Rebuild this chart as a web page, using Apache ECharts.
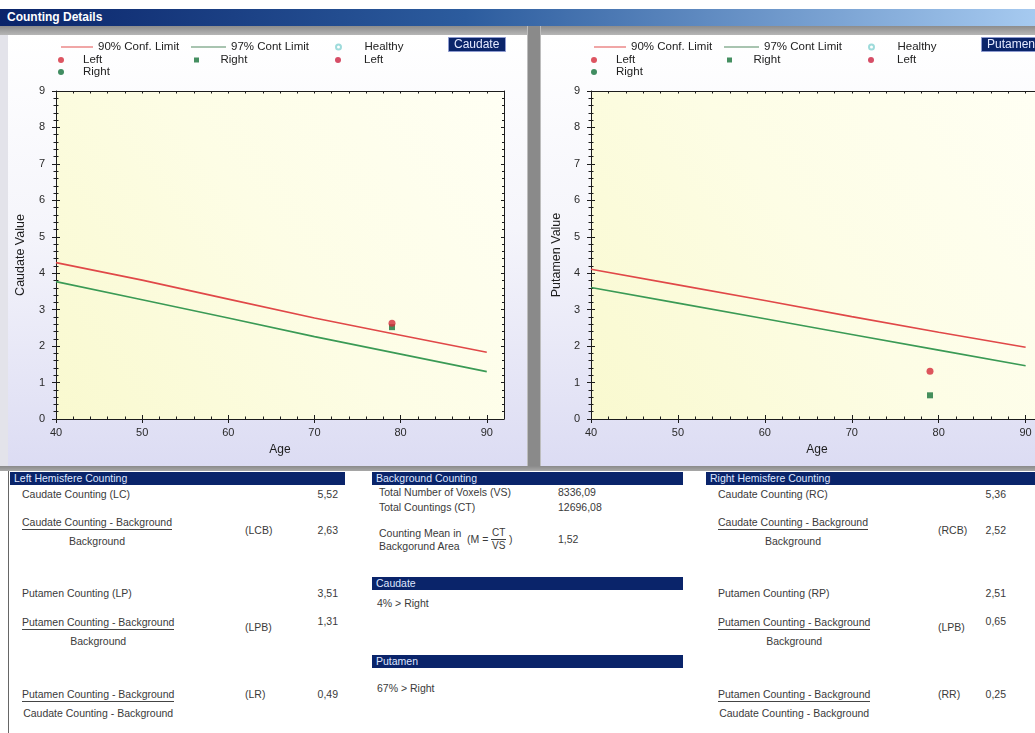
<!DOCTYPE html>
<html lang="en">
<head>
<meta charset="utf-8">
<title>Counting Details</title>
<script src="https://cdn.jsdelivr.net/npm/echarts@6.0.0/dist/echarts.min.js"></script>
<style>
  html, body { margin: 0; padding: 0; }
  body { width: 1035px; height: 733px; overflow: hidden; position: relative; background: #ffffff;
         font-family: "Liberation Sans", Arial, sans-serif; }
  #titlebar { position: absolute; left: 0; top: 9px; width: 1035px; height: 17px;
              background: linear-gradient(to right, #0a246a 0%, #2c5c9e 45%, #a6caf0 100%); }
  #titlebar span { position: absolute; left: 7px; top: 1px; color: #fff; font-weight: bold;
                   font-size: 12px; line-height: 15px; }
  #topband { position: absolute; left: 0; top: 26px; width: 1035px; height: 9px;
             background: linear-gradient(#8c8c8c, #b6b6b6); }
  #leftedge { position: absolute; left: 0; top: 35px; width: 8px; height: 432px; background: #e3e3ea; }
  .panel { position: absolute; top: 35px; height: 431px;
           background: linear-gradient(to bottom, #ffffff 0%, #f5f5fb 45%, #dcdcf3 100%); }
  #divider { position: absolute; left: 527px; top: 26px; width: 14px; height: 445px; box-sizing: border-box;
             background: #8a8a8a; border-left: 1px solid #bdbdbd; border-right: 1px solid #bdbdbd; }
  #midband { position: absolute; left: 0; top: 466px; width: 1035px; height: 5px;
             background: linear-gradient(#8a8a8a, #a8a8a8); }
  #leftrule { position: absolute; left: 8px; top: 471px; width: 1px; height: 262px; background: #666; }
  .chart { position: absolute; top: 35px; height: 431px; }
  .t { position: absolute; font-size: 10.5px; line-height: 12px; color: #3a3a3a; white-space: nowrap; }
  .hdr { position: absolute; height: 13px; line-height: 13px; background: #0a246a; color: #dfe6ff;
         font-size: 10.5px; padding-left: 4px; box-sizing: border-box; white-space: nowrap; overflow: hidden; }
  .frac { position: absolute; text-align: center; font-size: 10.5px; color: #3a3a3a; white-space: nowrap; }
  .frac .n { line-height: 12px; border-bottom: 1px solid #444; padding-bottom: 1px; }
  .frac .d { line-height: 12px; margin-top: 5px; }
  .sfrac { position: absolute; text-align: center; font-size: 10px; color: #3a3a3a; white-space: nowrap; }
  .sfrac .n { line-height: 10px; border-bottom: 1px solid #444; padding: 0 1px 1px; }
  .sfrac .d { line-height: 10px; margin-top: 1px; }
</style>
</head>
<body>
<div id="titlebar"><span>Counting Details</span></div>
<div id="topband"></div>
<div id="leftedge"></div>
<div class="panel" style="left:8px;width:519px"></div>
<div class="panel" style="left:541px;width:520px"></div>
<div id="divider"></div>
<div id="midband"></div>
<div id="leftrule"></div>
<div id="caudateChart" class="chart" style="left:8px;width:519px"></div>
<div id="putamenChart" class="chart" style="left:541px;width:520px"></div>

<script>
// ---- values -------------------------------------------------------------
const ages = [40, 50, 60, 70, 80, 90];                  // ages where the limit curves are sampled
const caudateLimit90 = [4.29, 3.81, 3.29, 2.77, 2.30, 1.83];
const caudateLimit97 = [3.77, 3.27, 2.77, 2.26, 1.78, 1.30];
const putamenLimit90 = [4.11, 3.68, 3.25, 2.81, 2.38, 1.97];
const putamenLimit97 = [3.61, 3.18, 2.75, 2.32, 1.89, 1.46];
const patientAge = 79;

// hemisphere counting: C, CB, P, PB, R
const leftHemisphere  = [5.52, 2.63, 3.51, 1.31, 0.49];
const rightHemisphere = [5.36, 2.52, 2.51, 0.65, 0.25];
const leftTags  = ['(LC)', '(LCB)', '(LP)', '(LPB)', '(LR)'];
const rightTags = ['(RC)', '(RCB)', '(RP)', '(LPB)', '(RR)'];
// background: voxels VS, countings CT, mean M
const backgroundCounting = [8336.09, 12696.08, 1.52];
const asymmetryPercent = [4, 67];                        // caudate, putamen

const fmt = v => v.toFixed(2).replace('.', ',');

// ---- charts -------------------------------------------------------------
const FONT = '"Liberation Sans", Arial, sans-serif';
const INK = '#1c1c1c';
const AGE_MIN = 40, AGE_MAX = 92;
const SQUARE = 'path://M0,0H10V10H0Z';
const pairs = (xs, ys) => xs.map((x, i) => [x, ys[i]]);

// legend entries: series name, icon, icon colour, box left, box width, box height, row
const legendSlots = [
  ['90% Conf. Limit', 'rect', '#f0a6a6', 53, 32, 2, 0],
  ['Left', 'circle', null, 50, 34, 6, 1],
  ['Right 2', 'circle', null, 50, 34, 6, 2],
  ['97% Cont Limit', 'rect', '#a8c4b0', 183, 35, 2, 0],
  ['Right', SQUARE, null, 186, 38, 5, 1],
  ['Healthy', 'emptyCircle', null, 327, 42, 5, 0],
  ['Left 2', 'circle', null, 327, 42, 6, 1]
];
const legendRows = [12, 25, 37];

function valueAxis(extra) {
  const base = {
    type: 'value', silent: true,
    splitLine: { show: false }, minorSplitLine: { show: false },
    axisLabel: { show: false },
    axisLine: { show: false, onZero: false, lineStyle: { color: INK, width: 1 } },
    axisTick: { show: true, inside: true, length: 4, lineStyle: { color: INK, width: 1 } },
    minorTick: { show: false }
  };
  for (const k in extra) {
    base[k] = (typeof extra[k] === 'object' && !Array.isArray(extra[k]) && base[k])
      ? Object.assign({}, base[k], extra[k]) : extra[k];
  }
  return base;
}

function drawChart(el, cfg) {
  const chart = echarts.init(el, null, { renderer: 'canvas' });
  const xr = { min: AGE_MIN, max: AGE_MAX };
  const yr = { min: 0, max: 9, interval: 1 };
  const option = {
    animation: false,
    title: {
      text: cfg.title, left: 440, top: 2, padding: [1, 6],
      backgroundColor: '#0a246a', borderColor: '#8e9bd0', borderWidth: 1,
      textStyle: { color: '#e4e9ff', fontSize: 12, fontWeight: 'normal', fontFamily: FONT, lineHeight: 13 }
    },
    legend: legendSlots.map(s => ({
      left: s[3], top: legendRows[s[6]] - 6.5, padding: 0, itemGap: 0,
      itemWidth: s[4], itemHeight: s[5], selectedMode: false,
      formatter: n => n.replace(/ 2$/, ''),
      textStyle: { color: '#222', fontSize: 11.5, fontFamily: FONT, lineHeight: 13 },
      data: [s[2] ? { name: s[0], icon: s[1], itemStyle: { color: s[2], borderWidth: 0 } }
                  : { name: s[0], icon: s[1] }]
    })),
    grid: {
      left: cfg.gridLeft, top: 56, width: cfg.gridWidth, height: 328,
      show: true, borderWidth: 0, outerBoundsMode: 'none',
      backgroundColor: { type: 'linear', x: 0, y: 1, x2: 1, y2: 0,
        colorStops: [{ offset: 0, color: '#f9f9cf' }, { offset: 0.5, color: '#fdfde5' }, { offset: 1, color: '#fffff4' }] }
    },
    xAxis: [
      valueAxis(Object.assign({}, xr, {
        interval: 10, position: 'bottom',
        name: 'Age', nameLocation: 'middle', nameGap: 25,
        nameTextStyle: { color: INK, fontSize: 12, fontFamily: FONT },
        axisLine: { show: true },
        axisTick: { inside: false, length: 4 },
        axisLabel: { show: true, margin: 8, color: '#2a2a2a', fontSize: 11, fontFamily: FONT, showMaxLabel: false }
      })),
      valueAxis(Object.assign({}, xr, { interval: 10, position: 'bottom', axisTick: { inside: true, length: 4 } })),
      valueAxis(Object.assign({}, xr, { interval: 2, position: 'bottom', axisTick: { inside: true, length: 2.5 } })),
      valueAxis(Object.assign({}, xr, { interval: 2, position: 'top', axisLine: { show: true }, axisTick: { inside: true, length: 2.5 } }))
    ],
    yAxis: [
      valueAxis(Object.assign({}, yr, {
        position: 'left',
        name: cfg.yName, nameLocation: 'middle', nameRotate: 90, nameGap: cfg.nameGap,
        nameTextStyle: { color: INK, fontSize: 12.5, fontFamily: FONT },
        axisLine: { show: true },
        axisTick: { inside: false, length: 4 },
        minorTick: { show: true, splitNumber: 5, length: 2.5, lineStyle: { color: INK } },
        axisLabel: { show: true, margin: 11, color: '#2a2a2a', fontSize: 11, fontFamily: FONT }
      })),
      valueAxis(Object.assign({}, yr, {
        position: 'left', axisTick: { inside: true, length: 4 },
        minorTick: { show: true, splitNumber: 5, length: 2.5, lineStyle: { color: INK } }
      })),
      valueAxis(Object.assign({}, yr, {
        position: 'right', axisLine: { show: true }, axisTick: { inside: true, length: 3 },
        minorTick: { show: true, splitNumber: 5, length: 2, lineStyle: { color: INK } }
      }))
    ],
    series: [
      { name: '90% Conf. Limit', type: 'line', data: pairs(ages, cfg.lim90), symbol: 'none', silent: true,
        lineStyle: { color: '#e04848', width: 1.6 }, itemStyle: { color: '#e04848' }, z: 2 },
      { name: '97% Cont Limit', type: 'line', data: pairs(ages, cfg.lim97), symbol: 'none', silent: true,
        lineStyle: { color: '#3a9a55', width: 1.6 }, itemStyle: { color: '#3a9a55' }, z: 2 },
      { name: 'Healthy', type: 'scatter', data: [], symbol: 'emptyCircle', symbolSize: 6,
        itemStyle: { color: '#86d2d2' } },
      { name: 'Left', type: 'scatter', data: [[patientAge, cfg.left]], symbol: 'circle', symbolSize: 7,
        itemStyle: { color: '#d42a3a' }, z: 5 },
      { name: 'Right', type: 'scatter', data: [[patientAge, cfg.right]], symbol: 'rect', symbolSize: 6,
        itemStyle: { color: '#16733a' }, z: 4 },
      { name: 'Left 2', type: 'scatter', data: [], symbol: 'circle', itemStyle: { color: '#cc2040' } },
      { name: 'Right 2', type: 'scatter', data: [], symbol: 'circle', itemStyle: { color: '#12703a' } }
    ]
  };
  chart.setOption(option);
  return chart;
}

drawChart(document.getElementById('caudateChart'), {
  title: 'Caudate', yName: 'Caudate Value', nameGap: 29, gridLeft: 48, gridWidth: 448,
  lim90: caudateLimit90, lim97: caudateLimit97, left: leftHemisphere[1], right: rightHemisphere[1]
});
drawChart(document.getElementById('putamenChart'), {
  title: 'Putamen', yName: 'Putamen Value', nameGap: 26, gridLeft: 50, gridWidth: 452,
  lim90: putamenLimit90, lim97: putamenLimit97, left: leftHemisphere[3], right: rightHemisphere[3]
});

// ---- counting tables ----------------------------------------------------
const host = document.body;
function el(cls, html, style) {
  const d = document.createElement('div');
  d.className = cls;
  d.innerHTML = html;
  Object.assign(d.style, style);
  host.appendChild(d);
  return d;
}
const text = (s, x, yc) => el('t', s, { left: x + 'px', top: (yc - 6) + 'px' });
const rtext = (s, xr, yc) => el('t', s, { right: (1035 - xr) + 'px', top: (yc - 6) + 'px' });
const header = (s, x, y, w) => el('hdr', s, { left: x + 'px', top: y + 'px', width: w + 'px' });
const fraction = (num, den, x, yc) =>
  el('frac', '<div class="n">' + num + '</div><div class="d">' + den + '</div>', { left: x + 'px', top: (yc - 6) + 'px' });

function hemisphereTable(title, vals, tags, x0, tagX, valueRight) {
  header(title, x0 - 12, 472, 335);
  text('Caudate Counting ' + tags[0], x0, 494);
  rtext(fmt(vals[0]), valueRight, 494);
  fraction('Caudate Counting - Background', 'Background', x0, 522);
  text(tags[1], tagX, 530);
  rtext(fmt(vals[1]), valueRight, 530);
  text('Putamen Counting ' + tags[2], x0, 593);
  rtext(fmt(vals[2]), valueRight, 593);
  fraction('Putamen Counting - Background', 'Background', x0, 622);
  text(tags[3], tagX, 627);
  rtext(fmt(vals[3]), valueRight, 621);
  fraction('Putamen Counting - Background', 'Caudate Counting - Background', x0, 694);
  text(tags[4], tagX, 694);
  rtext(fmt(vals[4]), valueRight, 694);
}

hemisphereTable('Left Hemisfere Counting', leftHemisphere, leftTags, 22, 245, 338);
hemisphereTable('Right Hemisfere Counting', rightHemisphere, rightTags, 718, 938, 1006);

header('Background Counting', 372, 472, 311);
text('Total Number of Voxels (VS)', 379, 492);
text(fmt(backgroundCounting[0]), 558, 492);
text('Total Countings (CT)', 379, 507);
text(fmt(backgroundCounting[1]), 558, 507);
text('Counting Mean in', 379, 533);
text('Backgorund Area', 379, 546);
text('(M =', 467, 539);
el('sfrac', '<div class="n">CT</div><div class="d">VS</div>', { left: '491px', top: '528px' });
text(')', 509, 539);
text(fmt(backgroundCounting[2]), 558, 539);
header('Caudate', 372, 577, 311);
text(asymmetryPercent[0] + '% &gt; Right', 377, 603);
header('Putamen', 372, 655, 311);
text(asymmetryPercent[1] + '% &gt; Right', 377, 688);
</script>
</body>
</html>
